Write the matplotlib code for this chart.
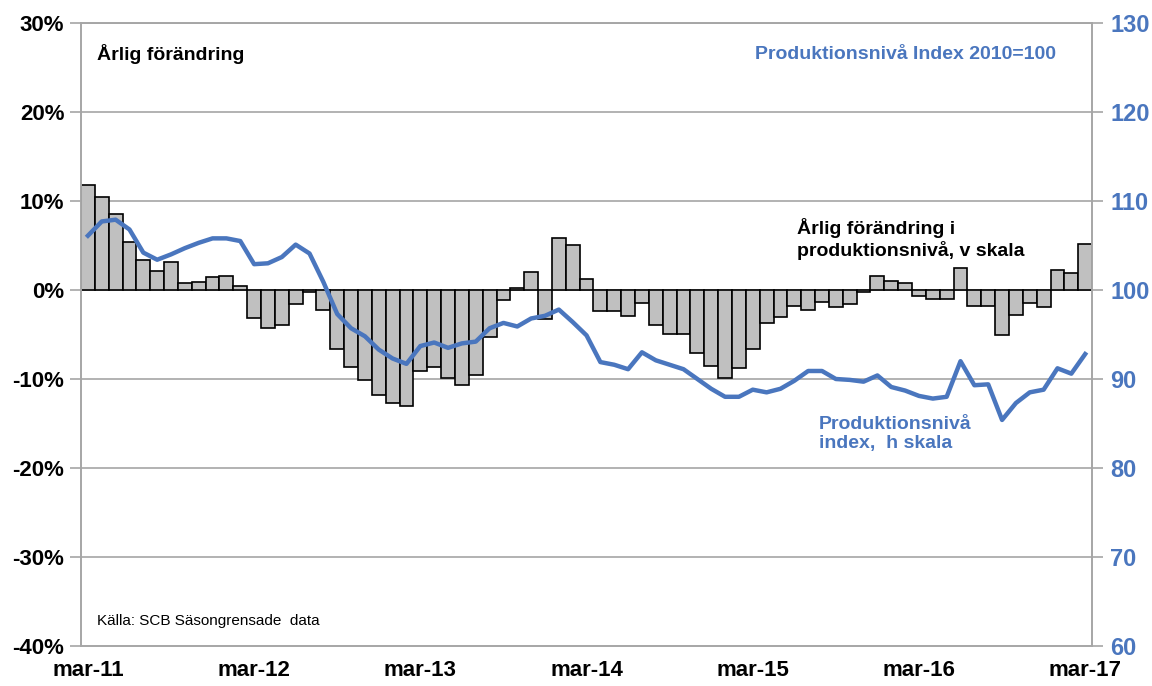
import numpy as np
import matplotlib.pyplot as plt

plt.rcParams['font.family'] = ['Liberation Sans', 'DejaVu Sans']

# monthly data mar-11 .. mar-17
arlig_forandring = [11.8, 10.5, 8.5, 5.4, 3.4, 2.1, 3.1, 0.8, 0.9, 1.5, 1.6, 0.4,
                    -3.1, -4.3, -3.9, -1.6, -0.2, -2.3, -6.6, -8.7, -10.1, -11.8, -12.7, -13.0,
                    -9.1, -8.7, -9.9, -10.7, -9.5, -5.3, -1.1, 0.2, 2.0, -3.3, 5.8, 5.0,
                    1.2, -2.4, -2.4, -2.9, -1.5, -3.9, -4.9, -5.0, -7.1, -8.5, -9.9, -8.8,
                    -6.6, -3.7, -3.0, -1.8, -2.2, -1.3, -1.9, -1.6, -0.2, 1.6, 1.0, 0.8,
                    -0.7, -1.0, -1.0, 2.5, -1.8, -1.8, -5.1, -2.8, -1.5, -1.9, 2.3, 1.9, 5.2]
produktionsniva = [106.1, 107.7, 107.9, 106.8, 104.2, 103.4, 104.0, 104.7, 105.3, 105.8, 105.8, 105.5,
                   102.9, 103.0, 103.7, 105.1, 104.1, 100.9, 97.3, 95.7, 94.8, 93.3, 92.3, 91.7,
                   93.7, 94.1, 93.5, 94.0, 94.2, 95.7, 96.3, 95.9, 96.8, 97.1, 97.8, 96.4,
                   94.9, 91.9, 91.6, 91.1, 93.0, 92.1, 91.6, 91.1, 90.0, 88.9, 88.0, 88.0,
                   88.8, 88.5, 88.9, 89.8, 90.9, 90.9, 90.0, 89.9, 89.7, 90.4, 89.1, 88.7,
                   88.1, 87.8, 88.0, 92.0, 89.3, 89.4, 85.4, 87.3, 88.5, 88.8, 91.2, 90.6, 92.8]
tick_labels = ['mar-11', 'mar-12', 'mar-13', 'mar-14', 'mar-15', 'mar-16', 'mar-17']

blue = '#4A76BE'
grey = '#A6A6A6'
x = np.arange(len(arlig_forandring))

fig = plt.figure(figsize=(11.52, 6.86), dpi=100)
ax = fig.add_axes([0.0703, 0.0583, 0.8777, 0.9082])
ax2 = ax.twinx()

ax.bar(x, arlig_forandring, width=1.0, color='#C0C0C0', edgecolor='black', linewidth=1.2, zorder=2)
for v in range(-30, 31, 10):
    ax.axhline(v, color=grey, linewidth=1.2, zorder=0)
ax.set_ylim(-40, 30)
ax.set_xlim(-0.5, len(x) - 0.5)
ax.set_yticks(range(-40, 31, 10))
ax.set_yticklabels([f'{v}%' for v in range(-40, 31, 10)], fontsize=16, fontweight='bold')
ax.set_xticks(range(0, len(x), 12))
ax.set_xticklabels(tick_labels, fontsize=16, fontweight='bold')

ax2.plot(x, produktionsniva, color=blue, linewidth=3.2, zorder=3, solid_joinstyle='round')
ax2.set_ylim(60, 130)
ax2.set_yticks(range(60, 131, 10))
ax2.set_yticklabels([str(v) for v in range(60, 131, 10)], fontsize=17, fontweight='bold', color=blue)

for a in (ax, ax2):
    for s in a.spines.values():
        s.set_color(grey)
        s.set_linewidth(1.2)
    a.tick_params(axis='y', length=8, width=1.2, color=grey, pad=4)
ax.tick_params(axis='x', length=0, pad=10)
ax2.tick_params(axis='y', pad=5)

ax.text(0.016, 0.95, 'Årlig förändring', transform=ax.transAxes, fontsize=14,
        fontweight='bold', ha='left', va='center')
ax.text(0.667, 0.95, 'Produktionsnivå Index 2010=100', transform=ax.transAxes, fontsize=14,
        fontweight='bold', color=blue, ha='left', va='center')
ax.text(51.2, 5.7, 'Årlig förändring i\nproduktionsnivå, v skala', fontsize=14,
        fontweight='bold', ha='left', va='center', linespacing=1.2)
ax.text(52.8, -16.2, 'Produktionsnivå\nindex,  h skala', fontsize=14,
        fontweight='bold', color=blue, ha='left', va='center', linespacing=1.2)
ax.text(0.016, 0.04, 'Källa: SCB Säsongrensade  data', transform=ax.transAxes, fontsize=11,
        ha='left', va='center')

fig.savefig('out.png', dpi=100)
